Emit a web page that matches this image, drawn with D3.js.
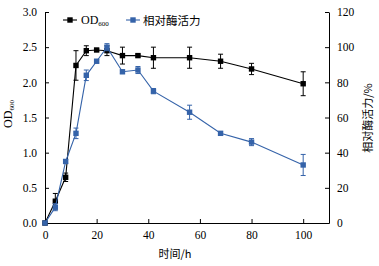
<!DOCTYPE html>
<html>
<head>
<meta charset="utf-8">
<script src="https://cdn.jsdelivr.net/npm/d3@7"></script>
<style>
  body { margin: 0; background: #fff; }
  svg text { font-family: "Liberation Serif", "Times New Roman", serif; }
  svg text.cjk { font-family: "Noto Sans CJK SC", sans-serif; }
</style>
</head>
<body>
<div id="chart"></div>
<script>
// time points (h)
const timeOD = [0, 4, 8, 12, 16, 20, 24, 30, 36, 42, 56, 68, 80, 100];
const odValues = [0, 0.31, 0.65, 2.24, 2.45, 2.46, 2.45, 2.38, 2.38, 2.35, 2.35, 2.30, 2.19, 1.98];
const odErrors = [0, 0.11, 0.06, 0.21, 0.07, 0.02, 0.07, 0.12, 0.02, 0.15, 0.15, 0.10, 0.08, 0.17];

const timeAct = [0, 4, 8, 12, 16, 20, 24, 30, 36, 42, 56, 68, 80, 100];
const actValues = [0, 9, 35, 51, 84, 92, 100, 86, 87, 75, 63, 51, 46, 33];
const actErrors = [0, 2, 1, 3, 3, 1, 2, 1, 2, 1.5, 4, 1, 2, 6];

const xTicks = [0, 20, 40, 60, 80, 100];
const yLeftTicks = [0, 0.5, 1.0, 1.5, 2.0, 2.5, 3.0];
const yRightTicks = [0, 20, 40, 60, 80, 100, 120];

const outerWidth = 379, outerHeight = 266;
const margin = {left: 45, right: 50, top: 12, bottom: 43};
const innerWidth = outerWidth - margin.left - margin.right;
const innerHeight = outerHeight - margin.top - margin.bottom;

const svg = d3.select("#chart").append("svg")
    .attr("width", outerWidth)
    .attr("height", outerHeight);

const xScale = d3.scaleLinear().domain([0, 110]).range([margin.left, margin.left + innerWidth]);
const yLeft = d3.scaleLinear().domain([0, 3]).range([margin.top + innerHeight, margin.top]);
const yRight = d3.scaleLinear().domain([0, 120]).range([margin.top + innerHeight, margin.top]);

const blue = "#3563a9";

// axes, ticks pointing inward
const xAxis = svg.append("g")
    .attr("transform", "translate(0," + (margin.top + innerHeight) + ")")
    .call(d3.axisBottom(xScale).tickValues(xTicks).tickSize(-4).tickSizeOuter(0).tickPadding(8));
const lAxis = svg.append("g")
    .attr("transform", "translate(" + margin.left + ",0)")
    .call(d3.axisLeft(yLeft).tickValues(yLeftTicks).tickFormat(d3.format(".1f")).tickSize(-4).tickSizeOuter(0).tickPadding(8));
const rAxis = svg.append("g")
    .attr("transform", "translate(" + (margin.left + innerWidth) + ",0)")
    .call(d3.axisRight(yRight).tickValues(yRightTicks).tickSize(-4).tickSizeOuter(0).tickPadding(8));

[xAxis, lAxis, rAxis].forEach(a => {
    a.attr("font-family", null).attr("font-size", null);
    a.selectAll("text").attr("font-size", 11.5).attr("fill", "#000");
    a.selectAll("line, path").attr("stroke", "#000").attr("stroke-width", 1);
});

// one series: line, error bars, square markers
function drawSeries(xs, ys, errs, yScale, color) {
    const pts = xs.map((x, i) => ({x: x, y: ys[i], e: errs[i]}));
    const g = svg.append("g");
    g.append("path")
        .datum(pts)
        .attr("fill", "none")
        .attr("stroke", color)
        .attr("stroke-width", 1.1)
        .attr("d", d3.line().x(d => xScale(d.x)).y(d => yScale(d.y)));
    const eb = g.selectAll(".eb").data(pts.filter(d => d.e > 0)).enter().append("g")
        .attr("stroke", color).attr("stroke-width", 1);
    eb.append("line")
        .attr("x1", d => xScale(d.x)).attr("x2", d => xScale(d.x))
        .attr("y1", d => yScale(d.y - d.e)).attr("y2", d => yScale(d.y + d.e));
    eb.append("line")
        .attr("x1", d => xScale(d.x) - 2.5).attr("x2", d => xScale(d.x) + 2.5)
        .attr("y1", d => yScale(d.y - d.e)).attr("y2", d => yScale(d.y - d.e));
    eb.append("line")
        .attr("x1", d => xScale(d.x) - 2.5).attr("x2", d => xScale(d.x) + 2.5)
        .attr("y1", d => yScale(d.y + d.e)).attr("y2", d => yScale(d.y + d.e));
    g.selectAll(".pt").data(pts).enter().append("rect")
        .attr("x", d => xScale(d.x) - 2.7)
        .attr("y", d => yScale(d.y) - 2.7)
        .attr("width", 5.4).attr("height", 5.4)
        .attr("fill", color);
}

drawSeries(timeOD, odValues, odErrors, yLeft, "#000");
drawSeries(timeAct, actValues, actErrors, yRight, blue);

// legend
const legend = svg.append("g");
function legendItem(x, y, color) {
    legend.append("line").attr("x1", x).attr("x2", x + 14).attr("y1", y).attr("y2", y)
        .attr("stroke", color).attr("stroke-width", 1.1);
    legend.append("rect").attr("x", x + 4.3).attr("y", y - 2.7).attr("width", 5.4).attr("height", 5.4)
        .attr("fill", color);
}
legendItem(63, 20, "#000");
const odLeg = legend.append("text").attr("x", 81).attr("y", 24).attr("font-size", 12);
odLeg.append("tspan").text("OD");
odLeg.append("tspan").text("600").attr("font-size", 7).attr("dy", 2);
legendItem(126, 20, blue);
legend.append("text").attr("class", "cjk").attr("x", 143).attr("y", 24.5).attr("font-size", 11.5)
    .text("相对酶活力");

// axis titles
svg.append("text").attr("x", 175).attr("y", 258).attr("text-anchor", "middle")
    .attr("font-size", 11).attr("class", "cjk").text("时间/h");

const yl = svg.append("text")
    .attr("transform", "translate(12,114) rotate(-90)")
    .attr("text-anchor", "middle").attr("font-size", 12);
yl.append("tspan").text("OD");
yl.append("tspan").text("600").attr("font-size", 7).attr("dy", 2);

svg.append("text")
    .attr("transform", "translate(372,118) rotate(-90)")
    .attr("text-anchor", "middle").attr("font-size", 11).attr("class", "cjk")
    .text("相对酶活力/%");
</script>
</body>
</html>
